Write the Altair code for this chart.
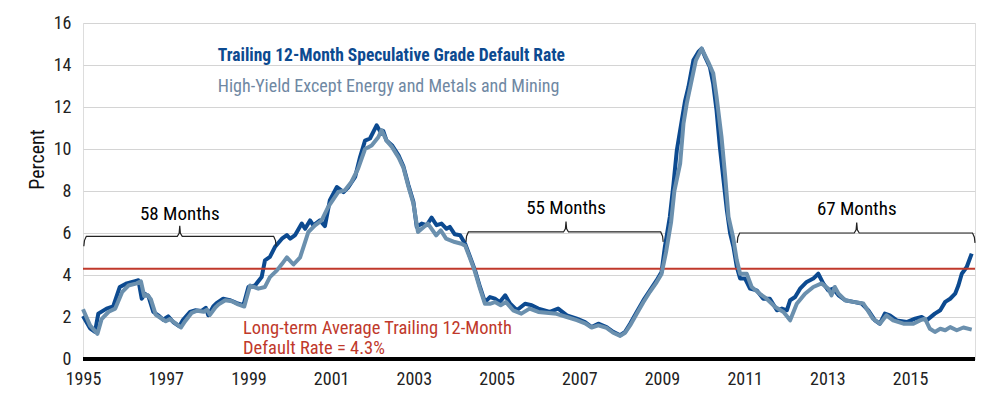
import altair as alt
import pandas as pd

# ---------------- data ----------------
dark_year = [1995.0, 1995.17, 1995.29, 1995.37, 1995.57, 1995.73, 1995.89, 1996.06, 1996.26, 1996.34,
             1996.42, 1996.5, 1996.58, 1996.7, 1996.82, 1996.94, 1997.06, 1997.18, 1997.33, 1997.42,
             1997.59, 1997.71, 1997.87, 1997.97, 1998.03, 1998.15, 1998.23, 1998.39, 1998.55, 1998.72,
             1998.88, 1999.0, 1999.16, 1999.32, 1999.4, 1999.52, 1999.64, 1999.81, 1999.93, 2000.01,
             2000.13, 2000.29, 2000.37, 2000.49, 2000.57, 2000.73, 2000.85, 2000.97, 2001.14, 2001.3,
             2001.42, 2001.58, 2001.7, 2001.82, 2001.94, 2002.1, 2002.22, 2002.26, 2002.34, 2002.47,
             2002.63, 2002.75, 2002.87, 2002.99, 2003.07, 2003.19, 2003.31, 2003.43, 2003.55, 2003.67,
             2003.79, 2003.87, 2003.99, 2004.12, 2004.24, 2004.36, 2004.48, 2004.6, 2004.72, 2004.84,
             2004.96, 2005.08, 2005.21, 2005.33, 2005.49, 2005.69, 2005.85, 2006.01, 2006.29, 2006.49,
             2006.7, 2006.94, 2007.14, 2007.3, 2007.46, 2007.66, 2007.82, 2007.99, 2008.11, 2008.23,
             2008.39, 2008.55, 2008.71, 2008.87, 2008.99, 2009.07, 2009.19, 2009.28, 2009.36, 2009.48,
             2009.56, 2009.64, 2009.76, 2009.88, 2009.96, 2010.04, 2010.16, 2010.24, 2010.32, 2010.4,
             2010.49, 2010.57, 2010.65, 2010.73, 2010.81, 2010.89, 2011.01, 2011.13, 2011.29, 2011.45,
             2011.61, 2011.78, 2011.9, 2012.02, 2012.1, 2012.22, 2012.34, 2012.5, 2012.66, 2012.78,
             2012.9, 2013.02, 2013.14, 2013.27, 2013.43, 2013.63, 2013.83, 2013.99, 2014.15, 2014.27,
             2014.39, 2014.51, 2014.68, 2014.92, 2015.12, 2015.28, 2015.4, 2015.6, 2015.73, 2015.85,
             2015.97, 2016.09, 2016.17, 2016.25, 2016.37, 2016.49]
dark_rate = [2.05, 1.46, 1.29, 2.16, 2.4, 2.5, 3.43, 3.6, 3.71, 3.75,
             2.87, 3.1, 3.0, 2.24, 2.08, 1.87, 2.03, 1.76, 1.56, 1.87,
             2.24, 2.32, 2.29, 2.44, 2.08, 2.5, 2.66, 2.87, 2.8, 2.66,
             2.56, 3.43, 3.5, 3.9, 4.7, 4.86, 5.33, 5.73, 5.9, 5.73,
             5.9, 6.45, 6.2, 6.6, 6.36, 6.6, 6.33, 7.56, 8.19, 7.95,
             8.19, 8.67, 9.62, 10.4, 10.5, 11.13, 10.73, 10.86, 10.4, 10.18,
             9.7, 9.16, 8.27, 7.48, 6.29, 6.45, 6.37, 6.73, 6.37, 6.45,
             6.2, 6.29, 5.94, 5.89, 5.49, 4.86, 4.22, 3.43, 2.71, 2.95,
             2.87, 2.71, 3.03, 2.63, 2.32, 2.63, 2.56, 2.4, 2.24, 2.4,
             2.08, 1.92, 1.76, 1.52, 1.68, 1.52, 1.29, 1.13, 1.29, 1.68,
             2.24, 2.79, 3.27, 3.74, 4.14, 5.33, 6.76, 8.35, 9.94, 11.37,
             12.3, 12.95, 14.22, 14.62, 14.78, 14.4, 13.9, 13.1, 11.84, 10.1,
             8.5, 7.08, 5.97, 5.33, 4.38, 3.83, 3.83, 3.35, 3.27, 2.87,
             2.87, 2.32, 2.4, 2.32, 2.8, 2.95, 3.35, 3.67, 3.83, 4.06,
             3.6, 3.27, 3.35, 3.03, 2.8, 2.72, 2.64, 2.32, 1.84, 1.68,
             2.16, 2.08, 1.84, 1.76, 1.92, 2.0, 1.84, 2.16, 2.32, 2.72,
             2.87, 3.11, 3.51, 4.06, 4.38, 5.02]

light_year = [1995.0, 1995.17, 1995.35, 1995.45, 1995.62, 1995.78, 1995.95, 1996.1, 1996.3, 1996.4,
              1996.48, 1996.56, 1996.64, 1996.76, 1996.88, 1997.0, 1997.1, 1997.24, 1997.37, 1997.47,
              1997.63, 1997.76, 1997.92, 1998.0, 1998.07, 1998.2, 1998.28, 1998.44, 1998.6, 1998.75,
              1998.9, 1999.04, 1999.24, 1999.4, 1999.52, 1999.69, 1999.81, 1999.93, 2000.09, 2000.25,
              2000.37, 2000.45, 2000.61, 2000.77, 2000.93, 2001.17, 2001.33, 2001.49, 2001.65, 2001.82,
              2001.98, 2002.14, 2002.22, 2002.34, 2002.47, 2002.63, 2002.75, 2002.87, 2002.99, 2003.1,
              2003.34, 2003.54, 2003.65, 2003.78, 2003.99, 2004.15, 2004.24, 2004.36, 2004.48, 2004.6,
              2004.72, 2004.84, 2004.96, 2005.1, 2005.23, 2005.4, 2005.6, 2005.8, 2006.01, 2006.2,
              2006.45, 2006.7, 2006.94, 2007.14, 2007.3, 2007.46, 2007.66, 2007.82, 2007.99, 2008.11,
              2008.23, 2008.39, 2008.55, 2008.71, 2008.87, 2008.99, 2009.1, 2009.22, 2009.3, 2009.44,
              2009.52, 2009.6, 2009.7, 2009.82, 2009.96, 2010.12, 2010.24, 2010.32, 2010.44, 2010.53,
              2010.61, 2010.72, 2010.81, 2010.89, 2011.05, 2011.17, 2011.37, 2011.53, 2011.74, 2011.94,
              2012.1, 2012.26, 2012.46, 2012.66, 2012.86, 2013.02, 2013.1, 2013.18, 2013.27, 2013.43,
              2013.63, 2013.87, 2014.1, 2014.27, 2014.43, 2014.59, 2014.84, 2015.08, 2015.24, 2015.36,
              2015.48, 2015.6, 2015.73, 2015.85, 2015.97, 2016.13, 2016.29, 2016.49]
light_rate = [2.37, 1.6, 1.2, 1.9, 2.25, 2.4, 3.2, 3.5, 3.6, 3.7,
              3.0, 3.05, 2.85, 2.1, 1.95, 1.8, 1.9, 1.7, 1.5, 1.8,
              2.2, 2.3, 2.25, 2.35, 2.1, 2.45, 2.6, 2.8, 2.75, 2.6,
              2.5, 3.5, 3.35, 3.43, 3.9, 4.22, 4.52, 4.84, 4.5, 4.84,
              5.57, 6.05, 6.36, 6.6, 7.24, 7.95, 8.03, 8.43, 9.05, 10.0,
              10.17, 10.56, 10.9, 10.4, 10.1, 9.6, 9.1, 8.2, 7.4, 6.05,
              6.45, 5.89, 6.13, 5.73, 5.57, 5.49, 5.4, 4.8, 4.15, 3.35,
              2.63, 2.63, 2.71, 2.56, 2.71, 2.32, 2.16, 2.4, 2.24, 2.2,
              2.15, 2.0, 1.85, 1.7, 1.5, 1.6, 1.48, 1.25, 1.1, 1.25,
              1.6, 2.15, 2.7, 3.2, 3.65, 4.05, 5.1, 6.5, 8.0, 9.3,
              11.2, 12.17, 13.1, 14.22, 14.78, 14.14, 13.6, 12.5, 10.57, 8.67,
              6.76, 5.8, 4.7, 4.06, 4.06, 3.43, 3.1, 2.87, 2.48, 2.24,
              1.84, 2.63, 3.11, 3.43, 3.6, 3.35, 3.03, 3.43, 3.11, 2.8,
              2.72, 2.64, 1.92, 1.68, 2.08, 1.84, 1.68, 1.68, 1.84, 1.92,
              1.44, 1.29, 1.44, 1.37, 1.52, 1.37, 1.5, 1.4]

x_ticks = [1995, 1997, 1999, 2001, 2003, 2005, 2007, 2009, 2011, 2013, 2015]
y_ticks = [0, 2, 4, 6, 8, 10, 12, 14, 16]
avg_rate = 4.3

series_names = ["Trailing 12-Month Speculative Grade Default Rate",
                "High-Yield Except Energy and Metals and Mining"]

bracket_start = [1995.02, 2004.26, 2010.82]
bracket_mid = [1997.34, 2006.68, 2013.71]
bracket_end = [1999.67, 2009.03, 2016.57]
bracket_level = [5.84, 6.05, 6.0]
bracket_label = ["58 Months", "55 Months", "67 Months"]
bracket_label_y = [6.6, 6.92, 6.84]

avg_text = ["Long-term Average Trailing 12-Month", "Default Rate = 4.3%"]

# ---------------- styling ----------------
FONT = "Roboto Condensed, Roboto, sans-serif"
DARK = "#0c4a90"
LIGHT = "#6b90ae"
RED = "#c0392b"
X_DOMAIN = [1995, 2016.57]

xs = alt.Scale(domain=X_DOMAIN, nice=False, zero=False)
ys = alt.Scale(domain=[0, 16], nice=False)

dark_df = pd.DataFrame({"year": dark_year, "rate": dark_rate})
light_df = pd.DataFrame({"year": light_year, "rate": light_rate})

base_axis_x = alt.Axis(values=x_ticks, format="d", grid=False, ticks=False, domain=False,
                       labelFontSize=18, labelPadding=11, labelColor="#222", title=None,
                       labelFont=FONT, labelFlush=False)
base_axis_y = alt.Axis(values=y_ticks, grid=True, gridColor="#d4d4d4", gridWidth=1,
                       ticks=False, domain=False, labelFontSize=18, labelPadding=12,
                       labelColor="#222", labelFont=FONT, labelFlush=False, title="Percent",
                       titleFont=FONT, titleFontSize=20, titleFontWeight="normal",
                       titleColor="#111", titleX=-40, titleY=136, titleBaseline="alphabetic",
                       titleAngle=-90)

dark_line = alt.Chart(dark_df).mark_line(color=DARK, strokeWidth=4, strokeJoin="round").encode(
    x=alt.X("year:Q", scale=xs, axis=base_axis_x),
    y=alt.Y("rate:Q", scale=ys, axis=base_axis_y),
)
light_line = alt.Chart(light_df).mark_line(color=LIGHT, strokeWidth=4, strokeJoin="round").encode(
    x=alt.X("year:Q", scale=xs),
    y=alt.Y("rate:Q", scale=ys),
)

avg_rule = alt.Chart(pd.DataFrame({"v": [avg_rate]})).mark_rule(color=RED, strokeWidth=2).encode(
    y=alt.Y("v:Q", scale=ys)
)
base_rule = alt.Chart(pd.DataFrame({"v": [0]})).mark_rule(color="#000", strokeWidth=4).encode(
    y=alt.Y("v:Q", scale=ys)
)

# brackets built from start / middle / end / level
rows = []
for i in range(len(bracket_start)):
    x0, xm, x1, lv = bracket_start[i], bracket_mid[i], bracket_end[i], bracket_level[i]
    pts = [(x0, lv - 0.47), (x0 + 0.015, lv - 0.2), (x0 + 0.06, lv),
           (xm - 0.06, lv), (xm - 0.015, lv + 0.15), (xm, lv + 0.5),
           (xm + 0.015, lv + 0.15), (xm + 0.06, lv),
           (x1 - 0.06, lv), (x1 - 0.015, lv - 0.2), (x1, lv - 0.47)]
    for k, (px, py) in enumerate(pts):
        rows.append({"g": i, "o": k, "x": px, "y": py})
br_df = pd.DataFrame(rows)
brackets = alt.Chart(br_df).mark_line(color="#222", strokeWidth=1.2).encode(
    x=alt.X("x:Q", scale=xs), y=alt.Y("y:Q", scale=ys), detail="g:N", order="o:Q"
)

lab_df = pd.DataFrame({"x": bracket_mid, "y": bracket_label_y, "t": bracket_label})
labels = alt.Chart(lab_df).mark_text(font=FONT, fontSize=19, color="#000",
                                     baseline="alphabetic", align="center").encode(
    x=alt.X("x:Q", scale=xs), y=alt.Y("y:Q", scale=ys), text="t:N"
)

leg_df = pd.DataFrame({"x": [1998.26, 1998.26], "y": [14.19, 12.71], "t": series_names,
                       "c": [DARK, "#6f88a3"]})
legend1 = alt.Chart(leg_df.iloc[[0]]).mark_text(font=FONT, fontSize=17.5, fontWeight="bold",
                                               align="left", baseline="alphabetic").encode(
    x=alt.X("x:Q", scale=xs), y=alt.Y("y:Q", scale=ys), text="t:N",
    color=alt.Color("c:N", scale=None)
)
legend2 = alt.Chart(leg_df.iloc[[1]]).mark_text(font=FONT, fontSize=18, fontWeight="normal",
                                               align="left", baseline="alphabetic").encode(
    x=alt.X("x:Q", scale=xs), y=alt.Y("y:Q", scale=ys), text="t:N",
    color=alt.Color("c:N", scale=None)
)

avg_df = pd.DataFrame({"x": [1998.87, 1998.87], "y": [1.21, 0.26], "t": avg_text})
avg_label = alt.Chart(avg_df).mark_text(font=FONT, fontSize=18.5, color=RED, align="left",
                                        baseline="alphabetic").encode(
    x=alt.X("x:Q", scale=xs), y=alt.Y("y:Q", scale=ys), text="t:N"
)

chart = alt.layer(
    dark_line, avg_rule, light_line, base_rule, brackets, labels, legend1, legend2, avg_label
).properties(
    width=892, height=336,
    autosize=alt.AutoSizeParams(type="none"),
    padding={"left": 75, "top": 15, "right": 18, "bottom": 30},
).configure_view(stroke=None).configure(background="white")

chart.save("out.html", embed_options={"renderer": "svg", "actions": False})
